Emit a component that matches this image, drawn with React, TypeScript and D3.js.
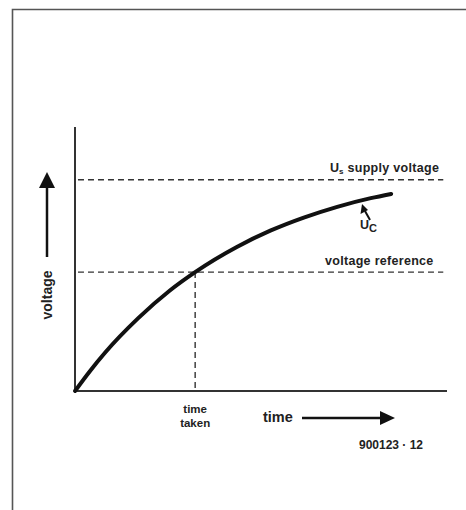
import { line, curveMonotoneX, scaleLinear, select } from 'd3';
import React, { useEffect, useRef } from 'react';

// capacitor charging curve (time in arbitrary units, voltage relative to Us)
const time = [0, 0.4, 0.8, 1.7, 2.55, 3.23, 4.35, 5.25, 6.15, 7.05, 7.95, 8.5];
const voltage = [0, 0.094, 0.18, 0.345, 0.476, 0.563, 0.682, 0.759, 0.821, 0.872, 0.913, 0.933];

const supplyVoltage = 1.0;
const referenceVoltage = 0.563;
const timeTaken = 3.23;
const guideEnd = 9.9;

const W = 466;
const H = 510;
const FONT = '"Liberation Sans", Arial, sans-serif';

function App() {
  const svgRef = useRef<SVGSVGElement>(null);

  useEffect(() => {
    const svg = select(svgRef.current);
    svg.selectAll('*').remove();

    const xScale = scaleLinear().domain([0, 10]).range([75, 447]);
    const yScale = scaleLinear().domain([0, 1.25]).range([391, 127]);

    // frame (only top and left edges are visible)
    svg
      .append('path')
      .attr('d', `M12.5,${H} L12.5,9.5 L${W},9.5`)
      .attr('fill', 'none')
      .attr('stroke', '#555')
      .attr('stroke-width', 1.6);

    // axes
    svg
      .append('line')
      .attr('x1', xScale(0))
      .attr('x2', xScale(0))
      .attr('y1', yScale(0))
      .attr('y2', yScale(1.25))
      .attr('stroke', '#333')
      .attr('stroke-width', 2);
    svg
      .append('line')
      .attr('x1', xScale(0))
      .attr('x2', xScale(10))
      .attr('y1', yScale(0))
      .attr('y2', yScale(0))
      .attr('stroke', '#333')
      .attr('stroke-width', 2);

    // dashed guides
    const dashed = (x1: number, y1: number, x2: number, y2: number) =>
      svg
        .append('line')
        .attr('x1', x1)
        .attr('y1', y1)
        .attr('x2', x2)
        .attr('y2', y2)
        .attr('stroke', '#333')
        .attr('stroke-width', 1.4)
        .attr('stroke-dasharray', '6,4');

    dashed(xScale(0.08), yScale(supplyVoltage), xScale(guideEnd), yScale(supplyVoltage));
    dashed(xScale(0.08), yScale(referenceVoltage), xScale(guideEnd), yScale(referenceVoltage));
    dashed(xScale(timeTaken), yScale(referenceVoltage), xScale(timeTaken), yScale(0));

    // Uc curve
    const curve = line<number>()
      .x((d, i) => xScale(time[i]))
      .y(d => yScale(d))
      .curve(curveMonotoneX);

    svg
      .append('path')
      .datum(voltage)
      .attr('d', d => curve(d))
      .attr('fill', 'none')
      .attr('stroke', '#111')
      .attr('stroke-width', 4)
      .attr('stroke-linecap', 'round');

    const text = (x: number, y: number, s: string, size: number, anchor = 'start') =>
      svg
        .append('text')
        .attr('x', x)
        .attr('y', y)
        .attr('font-family', FONT)
        .attr('font-weight', 'bold')
        .attr('font-size', size)
        .attr('fill', '#222')
        .attr('text-anchor', anchor)
        .text(s);

    // Us supply voltage label
    const us = text(330, 172, 'U', 12.5);
    us.append('tspan').attr('font-size', 8).attr('dy', 2).text('s');
    us
      .append('tspan')
      .attr('dy', -2)
      .attr('dx', 4)
      .attr('letter-spacing', 0.3)
      .text('supply voltage');

    text(325, 265, 'voltage reference', 12.5).attr('letter-spacing', 0.3);

    // Uc label with small pointer
    svg
      .append('line')
      .attr('x1', 370)
      .attr('y1', 220)
      .attr('x2', 365)
      .attr('y2', 211)
      .attr('stroke', '#111')
      .attr('stroke-width', 2);
    svg
      .append('path')
      .attr('d', 'M362,204 L360.5,214 L368,210 Z')
      .attr('fill', '#111');
    const uc = text(360, 229, 'U', 12.5);
    uc.append('tspan').attr('font-size', 11).attr('dy', 3).text('C');

    // voltage axis label + arrow
    svg
      .append('text')
      .attr('transform', 'translate(52,295) rotate(-90)')
      .attr('font-family', FONT)
      .attr('font-weight', 'bold')
      .attr('font-size', 14)
      .attr('fill', '#222')
      .attr('text-anchor', 'middle')
      .text('voltage');
    svg
      .append('line')
      .attr('x1', 47)
      .attr('x2', 47)
      .attr('y1', 257)
      .attr('y2', 186)
      .attr('stroke', '#111')
      .attr('stroke-width', 2.5);
    svg.append('path').attr('d', 'M47,172 L39,188 L55,188 Z').attr('fill', '#111');

    // time axis label + arrow
    text(263, 422, 'time', 14.5);
    svg
      .append('line')
      .attr('x1', 302)
      .attr('x2', 382)
      .attr('y1', 418)
      .attr('y2', 418)
      .attr('stroke', '#111')
      .attr('stroke-width', 2.5);
    svg.append('path').attr('d', 'M395,418 L380,411 L380,425 Z').attr('fill', '#111');

    text(xScale(timeTaken), 413, 'time', 11.5, 'middle');
    text(xScale(timeTaken), 427, 'taken', 11.5, 'middle');

    text(391, 449, '900123 · 12', 12, 'middle');
  }, []);

  return (
    <svg
      ref={svgRef}
      width={W}
      height={H}
      style={{ position: 'absolute', left: 0, top: 0, background: '#fff' }}
    />
  );
}

export default App;
